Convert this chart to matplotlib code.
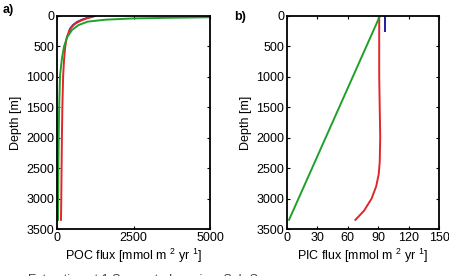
import numpy as np
import matplotlib.pyplot as plt

plt.rcParams['font.family'] = ['Liberation Sans', 'DejaVu Sans']
plt.rcParams['mathtext.default'] = 'regular'

# panel a) POC flux profiles [mmol m-2 yr-1] vs depth [m]
poc_blue_depth = [0, 30, 60, 100, 150, 200, 250]
poc_blue_flux = [1240, 1000, 820, 650, 520, 440, 400]

poc_red_depth = [15, 40, 80, 130, 215, 350, 500, 720, 1000, 1500, 2000, 2500, 3000, 3350]
poc_red_flux = [1140, 960, 760, 580, 420, 320, 270, 230, 200, 175, 160, 150, 140, 130]

poc_green_depth = [20, 30, 40, 60, 93, 150, 230, 350, 500, 700, 970, 1500, 2000, 2500, 3000, 3350]
poc_green_flux = [5000, 3600, 2480, 1600, 1000, 700, 490, 330, 230, 160, 100, 70, 55, 45, 40, 35]

# panel b) PIC flux profiles
pic_blue_depth = [0, 250]
pic_blue_flux = [97, 97]

pic_red_depth = [0, 500, 1000, 1500, 2000, 2400, 2600, 2800, 3000, 3200, 3350]
pic_red_flux = [91, 91, 91, 91.5, 92, 91.5, 90.5, 88, 83.5, 76, 67.5]

pic_green_depth = [20, 100, 3350]
pic_green_flux = [91, 89, 2]

blue = '#1f1fa0'
red = '#e0262b'
green = '#1fa02a'

fig = plt.figure(figsize=(4.49, 2.76), dpi=100)
ax1 = fig.add_axes([57 / 449, 1 - 229 / 276, 153 / 449, 213 / 276])
ax2 = fig.add_axes([287 / 449, 1 - 229 / 276, 152 / 449, 213 / 276])

ax1.plot(poc_blue_flux, poc_blue_depth, color=blue, lw=1.4)
ax1.plot(poc_red_flux, poc_red_depth, color=red, lw=1.4)
ax1.plot(poc_green_flux, poc_green_depth, color=green, lw=1.4)

ax2.plot(pic_blue_flux, pic_blue_depth, color=blue, lw=1.4)
ax2.plot(pic_red_flux, pic_red_depth, color=red, lw=1.4)
ax2.plot(pic_green_flux, pic_green_depth, color=green, lw=1.4)

ax1.set_xlim(0, 5000)
ax1.set_xticks([0, 2500, 5000])
ax1.set_xlabel('POC flux [mmol m $^{2}$ yr $^{1}$]', fontsize=9, labelpad=2)

ax2.set_xlim(0, 150)
ax2.set_xticks([0, 30, 60, 90, 120, 150])
ax2.set_xlabel('PIC flux [mmol m $^{2}$ yr $^{1}$]', fontsize=9, labelpad=2)

for ax in (ax1, ax2):
    ax.set_ylim(3500, 0)
    ax.set_yticks(np.arange(0, 3501, 500))
    ax.set_ylabel('Depth [m]', fontsize=9, labelpad=3)
    ax.tick_params(direction='in', length=2.5, width=0.8, labelsize=9,
                   top=True, right=True, pad=2)
    for s in ax.spines.values():
        s.set_linewidth(1.3)

fig.text(3 / 449, 1 - 13 / 276, 'a)', fontsize=9, fontweight='bold')
fig.text(234 / 449, 1 - 20 / 276, 'b)', fontsize=9, fontweight='bold')

# legend row cut off at the bottom of the image
fig.text(28 / 449, -7 / 276, 'Extraction at 1 Suggested gas in a Sub-Sea',
         fontsize=9, color='#444444')

fig.savefig('out.png', dpi=100)
